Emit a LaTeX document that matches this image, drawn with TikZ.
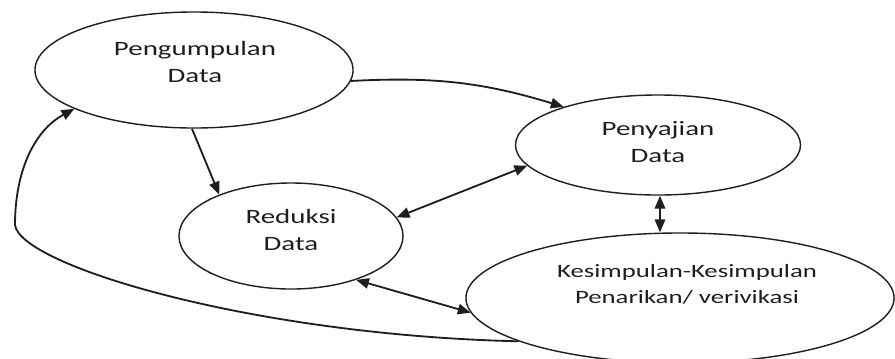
\documentclass[tikz,border=0pt]{standalone}
\usepackage{fontspec}
\setmainfont{Carlito}[FakeStretch=1.42]
\usetikzlibrary{shapes.geometric,arrows.meta}
\definecolor{ink}{RGB}{30,30,30}
\tikzset{
  oval/.style={ellipse, draw=ink, line width=1pt, inner sep=0pt},
  lbl/.style={align=center, text=ink, inner sep=0pt, font=\fontsize{14.5}{19.2}\selectfont},
  lblsmall/.style={align=center, text=ink, inner sep=0pt, font=\fontsize{13.4}{18.5}\selectfont},
  conn/.style={draw=ink, line width=1.3pt, -{Triangle[length=3.2mm,width=2.6mm]}},
  dconn/.style={draw=ink, line width=1.3pt, {Triangle[length=3.2mm,width=2.6mm]}-{Triangle[length=3.2mm,width=2.6mm]}}
}
\begin{document}
\begin{tikzpicture}[x=0.025cm, y=-0.025cm]
\useasboundingbox (0,0) rectangle (895,358);
% ellipses
\node[oval, minimum width=7.95cm, minimum height=2.9cm] (pg) at (194,70) {};
\node[oval, minimum width=7.125cm, minimum height=2.5cm] (pj) at (658,145) {};
\node[oval, minimum width=5.6cm, minimum height=2.65cm] (rd) at (291,236) {};
\node[oval, minimum width=10.7cm, minimum height=3.25cm] (ks) at (680,298) {};
% texts
\node[lbl] (pgt) at (195,61.5) {Pengumpulan\\Data};
\node[lbl] (pjt) at (658,142.5) {Penyajian\\Data};
\node[lbl] (rdt) at (291,230) {Reduksi\\Data};
\node[lblsmall] (kst) at (687,284) {Kesimpulan-Kesimpulan\\Penarikan/ verivikasi};
% connectors
\draw[conn] (pg.-4) to[bend left=10] (pj.158);
\draw[conn] (pg.-92) -- (rd.150);
\draw[dconn] (pj.189) -- (rd.10);
\draw[dconn] (pj.south -| 660,0) -- (ks.north -| 660,0);
\draw[dconn] (rd.-34) -- (ks.184);
\coordinate (bend) at (15,225);
\draw[conn] (ks.195) .. controls (250,335) and (20,265) .. (bend)
  .. controls (15,170) and (35,130) .. (pg.198);
\end{tikzpicture}
\end{document}
